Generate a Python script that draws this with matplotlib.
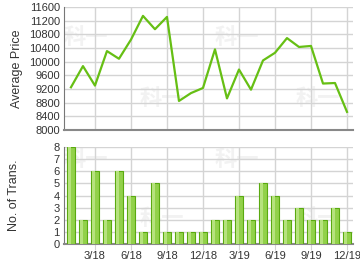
import matplotlib.pyplot as plt
import numpy as np

plt.rcParams['font.family'] = ['Liberation Sans', 'Noto Sans CJK SC', 'DejaVu Sans']

# monthly data, 1/18 .. 12/19
months = ["1/18", "2/18", "3/18", "4/18", "5/18", "6/18", "7/18", "8/18",
          "9/18", "10/18", "11/18", "12/18", "1/19", "2/19", "3/19", "4/19",
          "5/19", "6/19", "7/19", "8/19", "9/19", "10/19", "11/19", "12/19"]
avg_price = [9250, 9870, 9300, 10310, 10085, 10645, 11340, 10950, 11310,
             8850, 9080, 9230, 10360, 8925, 9770, 9180, 10035, 10260,
             10690, 10430, 10460, 9360, 9375, 8530]
n_trans = [8, 2, 6, 2, 6, 4, 1, 5, 1, 1, 1, 1, 2, 2, 4, 2, 5, 4, 2, 3, 2, 2, 3, 1]

tick_idx = [2, 5, 8, 11, 14, 17, 20, 23]
x = np.arange(len(months))

line_col = "#66bf14"
grid_col = "#d4d4d4"
txt_col = "#333333"

fig = plt.figure(figsize=(3.6, 2.7), dpi=100)
ax1 = fig.add_axes([64 / 360, 1 - 130 / 270, 289 / 360, 123 / 270])
ax2 = fig.add_axes([64 / 360, 1 - 244 / 270, 289 / 360, 97 / 270])


def style(ax):
    ax.set_xlim(-0.58, 23.5)
    ax.set_xticks([x[i] for i in tick_idx])
    ax.grid(True, color=grid_col, linewidth=1)
    ax.set_axisbelow(True)
    for s in ["top", "right"]:
        ax.spines[s].set_visible(False)
    ax.spines["left"].set_color("#777777")
    ax.spines["bottom"].set_color("#888888")
    ax.spines["bottom"].set_linewidth(1.5)
    ax.tick_params(axis="x", length=4, color=grid_col, labelsize=8, labelcolor=txt_col, pad=1)
    ax.tick_params(axis="y", length=0, labelsize=8, labelcolor=txt_col, pad=3)


def watermark(ax, spots):
    for px, py in spots:
        ax.text(px, py, "科一", transform=ax.transAxes, fontsize=16, fontweight="bold",
                color="#f2f2f2", zorder=0, family=["Noto Sans CJK SC"])


# top: average price
style(ax1)
watermark(ax1, [(0.0, 0.70), (0.52, 0.70), (0.80, 0.20), (0.26, 0.20)])
ax1.plot(x, avg_price, color=line_col, linewidth=1.6, zorder=3)
ax1.set_ylim(8000, 11600)
ax1.set_yticks(np.arange(8000, 11601, 400))
ax1.set_xticklabels([])
ax1.tick_params(axis="x", length=0)
ax1.set_ylabel("Average Price", fontsize=9, color=txt_col, labelpad=4)

# bottom: number of transactions
style(ax2)
watermark(ax2, [(0.0, 0.80), (0.52, 0.80), (0.80, 0.20), (0.26, 0.20)])
ax2.bar(x, n_trans, width=0.68, color="#92d14a", edgecolor="#5aaa10", linewidth=0.8, zorder=3)
ax2.bar(x - 0.12, n_trans, width=0.18, color="#b6e27e", linewidth=0, zorder=4)
ax2.set_ylim(0, 8)
ax2.set_yticks(range(0, 9))
ax2.set_xticklabels([months[i] for i in tick_idx])
ax2.set_ylabel("No. of Trans.", fontsize=9, color=txt_col, labelpad=24)

fig.savefig("out.png", dpi=100)
